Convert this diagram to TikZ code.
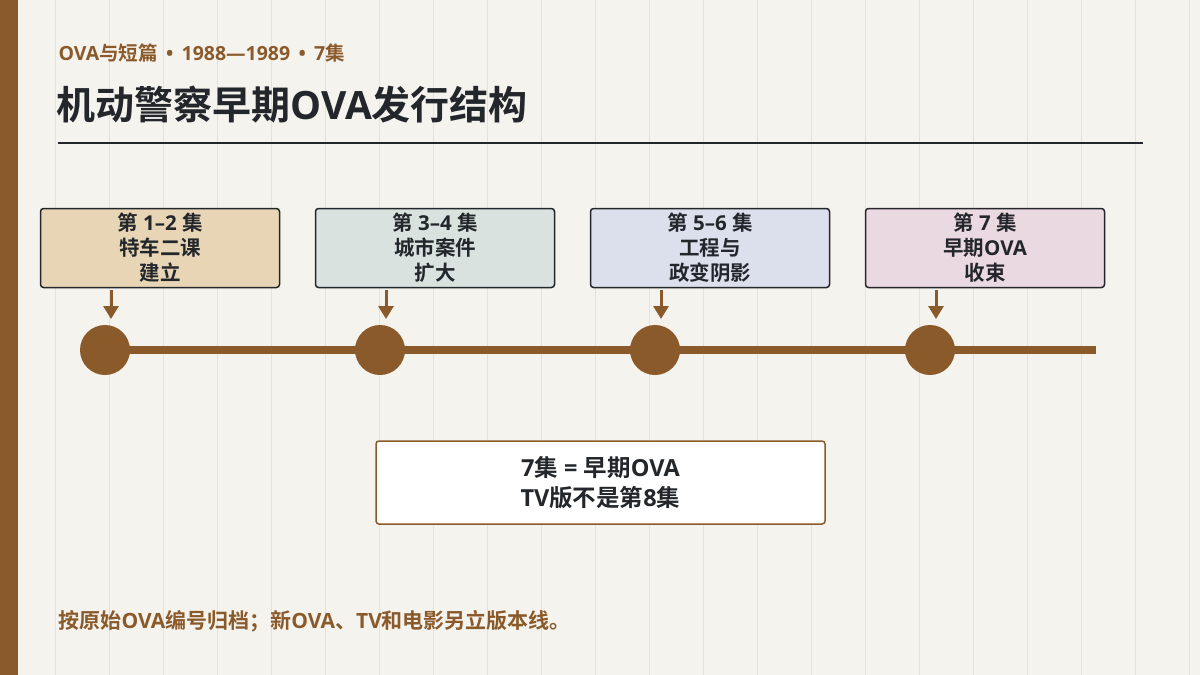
\documentclass[tikz,border=0pt]{standalone}
\usepackage{fontspec}
\setmainfont{Noto Sans CJK SC}[BoldFont={* Bold}]
\newfontfamily\lt{Open Sans}[BoldFont={* Bold}]
\newcommand{\la}[1]{{\lt #1}}
\usepackage{tikz}
\usetikzlibrary{arrows.meta,calc}
\definecolor{bg}{HTML}{F5F3EE}
\definecolor{grid}{HTML}{E4E2DA}
\definecolor{brown}{HTML}{8B5A2B}
\definecolor{ink}{HTML}{23262B}
\definecolor{phaseA}{HTML}{E8D5B5}
\definecolor{phaseB}{HTML}{D9E2DF}
\definecolor{phaseC}{HTML}{DCDFEC}
\definecolor{phaseD}{HTML}{EBD9E1}
\tikzset{
  phase/.style={draw=ink, line width=1.5pt, rounded corners=3pt, minimum width=239pt,
    minimum height=79pt, align=center, font=\fontsize{20.5}{25}\selectfont\bfseries,
    text=ink, inner sep=0pt},
  dot/.style={circle, fill=brown, minimum size=50pt, inner sep=0pt},
}
\begin{document}
\begin{tikzpicture}[x=1pt, y=-1pt]
    %% Background
    \fill[bg] (0,0) rectangle (1200,675);
    \useasboundingbox (0,0) rectangle (1200,675);
    \foreach \gx in {55,109,...,1200} \draw[grid, line width=1pt] (\gx,0) -- (\gx,675);
    \fill[brown] (0,0) rectangle (18,675);
    %% Heading
    \node[anchor=west, text=brown, font=\fontsize{19.5}{22}\selectfont\bfseries] (kicker) at (55,53) {\la{OVA}与短篇\la{\,\ •\ \,1988—1989\,\ •\ \,7}集};
    \node[anchor=west, text=ink, font=\fontsize{39}{44}\selectfont\bfseries] (title) at (53,105) {机动警察早期\la{OVA}发行结构};
    \draw[ink, line width=1.5pt] (58,143) -- (1143,143);
    %% Timeline
    \draw[brown, line width=8pt] (105,350) -- (1096,350);
    \foreach \i/\cx/\col/\txt in {1/160/phaseA/{第\la{ 1–2 }集\\特车二课\\建立},
                                  2/435/phaseB/{第\la{ 3–4 }集\\城市案件\\扩大},
                                  3/710/phaseC/{第\la{ 5–6 }集\\工程与\\政变阴影},
                                  4/985/phaseD/{第\la{ 7 }集\\早期\la{OVA}\\收束}} {
      \node[phase, fill=\col] (p\i) at (\cx,248) {\txt};
      \node[dot] (d\i) at (\cx-55,350) {};
      \coordinate (a\i) at (\cx-49,290);
      \draw[brown, line width=3pt, -{Triangle[width=15pt,length=13pt]}] (a\i) -- ++(0,29);
    }
    %% Note
    \node[draw=brown, line width=1.5pt, fill=white, rounded corners=3pt, minimum width=449pt,
      minimum height=83pt, align=center, text=ink, font=\fontsize{23.5}{30}\selectfont\bfseries]
      (note) at (600.5,482.5) {\la{7}集\la{ = }早期\la{OVA}\\\la{TV}版不是第\la{8}集};
    \node[anchor=west, text=brown, font=\fontsize{21}{24}\selectfont\bfseries] (foot) at (55,621) {按原始\la{OVA}编号归档；新\la{OVA}、\la{TV}和电影另立版本线。};
\end{tikzpicture}
\end{document}
